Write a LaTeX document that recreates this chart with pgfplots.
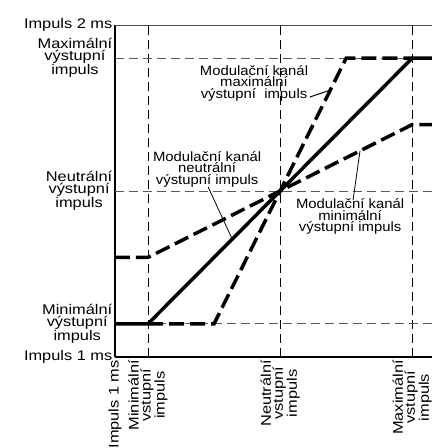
\documentclass[border=0pt]{standalone}
\usepackage{pgfplots}
\pgfplotsset{compat=1.18}
\usepackage{fontspec}
\setmainfont{Liberation Sans}
\newfontfamily\tickfont{Liberation Sans}[FakeStretch=1.17]
\newfontfamily\annfont{Liberation Sans}[FakeStretch=1.1]
\begin{document}
\begin{tikzpicture}
\begin{axis}[
  scale only axis, width=317pt, height=332pt,
  xmin=1, xmax=1.96, ymin=1, ymax=2,
  axis lines*=left, axis line style={-, black, line width=1.2pt},
  x axis line style={line width=1.5pt},
  xtick={1,1.1,1.5,1.9}, ytick={1,1.1,1.5,1.9,2},
  major tick length=0pt, tick style={draw=none},
  xticklabels={Impuls 1 ms,{Minimální\\vstupní\\impuls},{Neutrální\\vstupní\\impuls},{Maximální\\vstupní\\impuls}},
  yticklabels={Impuls 1 ms,{Minimální\\výstupní\\impuls},{Neutrální\\výstupní\\impuls},{Maximální\\výstupní\\impuls},Impuls 2 ms},
  xticklabel style={rotate=90, anchor=east, align=center, inner sep=3pt, font={\tickfont\fontsize{14}{12}\selectfont}},
  yticklabel style={anchor=east, align=center, inner sep=2.5pt, font={\tickfont\fontsize{14}{12}\selectfont}},
  clip=true,
]
% reference lines
\addplot[black, line width=0.8pt, dash pattern=on 9pt off 5pt] coordinates {(1.1,1) (1.1,2)};
\addplot[black, line width=0.8pt, dash pattern=on 9pt off 5pt] coordinates {(1.5,1) (1.5,2)};
\addplot[black, line width=0.8pt, dash pattern=on 9pt off 5pt] coordinates {(1.9,1) (1.9,2)};
\addplot[black!65, line width=0.9pt, dash pattern=on 9pt off 5pt] coordinates {(1,1.1) (1.96,1.1)};
\addplot[black!65, line width=0.9pt, dash pattern=on 9pt off 5pt] coordinates {(1,1.5) (1.96,1.5)};
\addplot[black!65, line width=0.9pt, dash pattern=on 9pt off 5pt] coordinates {(1,1.9) (1.96,1.9)};
% characteristic curves
\addplot[black, line width=3.5pt, dash pattern=on 15pt off 6pt] coordinates {(1.1,1.1) (1.3,1.1) (1.7,1.9) (1.9,1.9)};
\addplot[black, line width=3.5pt, dash pattern=on 15pt off 6pt] coordinates {(1,1.3) (1.1,1.3) (1.9,1.7) (1.96,1.7)};
\addplot[black, line width=3.5pt] coordinates {(1,1.1) (1.1,1.1) (1.9,1.9) (1.96,1.9)};
% annotations
\node[align=center, font={\annfont\fontsize{13.5}{11.5}\selectfont}] at (axis cs:1.421,1.825) {Modulační kanál\\maximální\\výstupní\ \ impuls};
\draw[black, line width=1pt] (axis cs:1.59,1.783) -- (axis cs:1.652,1.804);
\node[align=center, font={\annfont\fontsize{13.5}{11.5}\selectfont}] at (axis cs:1.279,1.566) {Modulační kanál\\neutrální\\výstupní impuls};
\draw[black, line width=0.8pt] (axis cs:1.282,1.512) -- (axis cs:1.355,1.355);
\node[align=center, font={\annfont\fontsize{13.5}{11.5}\selectfont}] at (axis cs:1.712,1.422) {Modulační kanál\\minimální\\výstupní impuls};
\draw[black, line width=0.8pt] (axis cs:1.721,1.473) -- (axis cs:1.742,1.621);
\draw[black!70, line width=0.8pt] (rel axis cs:0,1) -- (rel axis cs:1,1);
\end{axis}
\pgfresetboundingbox
\path[use as bounding box] (-115pt,-91pt) rectangle (317pt,357pt);
\end{tikzpicture}
\end{document}
